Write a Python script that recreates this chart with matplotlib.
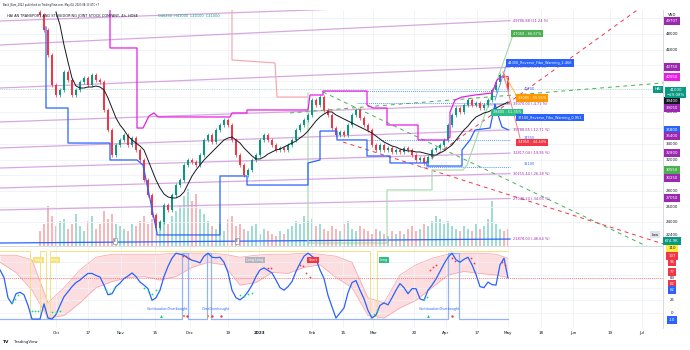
import numpy as np
import matplotlib.pyplot as plt
from matplotlib.transforms import blended_transform_factory

plt.rcParams['font.family'] = ['DejaVu Sans']

# x axis = candle slot (roughly one trading day), prices in VND
tick_slots = [4, 12, 20.25, 28.75, 37.5, 47, 54.75, 68, 75.75, 83.25, 93.5,
              101.5, 109.25, 117, 125.25, 133.25, 142.5, 150.5]
tick_labels = ['Oct', '17', 'Nov', '15', 'Dec', '19', '2023', 'Feb', '15', 'Mar',
               '20', 'Apr', '17', 'May', '18', 'Jun', '19', 'Jul']

first_open = 50800
closes = [50420, 48510, 45320, 41500, 40230, 40870, 43160, 42140, 40230, 40870,
          41880, 42390, 41500, 42780, 42140, 41880, 38320, 35770, 32580, 33860,
          34500, 35130, 33860, 34750, 33220, 31950, 29400, 27490, 24940, 23280,
          24050, 26210, 25580, 27490, 28760, 29400, 31310, 31950, 31690, 31310,
          32580, 34500, 35130, 34240, 35770, 36410, 37040, 36410, 34500, 32580,
          31310, 30040, 30670, 31950, 32580, 34500, 35130, 34500, 33860, 33220,
          33480, 33220, 33860, 34500, 35770, 36410, 37040, 37680, 39590, 38960,
          39970, 38320, 37680, 36020, 35130, 35510, 35130, 36410, 37680, 38320,
          37300, 36410, 35770, 33860, 33220, 33860, 33220, 33480, 32970, 33220,
          32970, 33480, 33220, 32580, 31950, 32200, 31560, 32330, 33220, 33480,
          33860, 34500, 36410, 37680, 38570, 38070, 38960, 39590, 38960, 39210,
          38570, 38960, 39590, 40870, 41880, 42780, 42390, 41000]
volumes_k = [600, 900, 1600, 1200, 800, 1000, 1100, 700, 900, 1300,
             800, 600, 1000, 1200, 700, 900, 1400, 1100, 1300, 900,
             800, 700, 600, 900, 800, 1000, 1200, 900, 1100, 1300,
             1000, 1500, 900, 1200, 1400, 1600, 2000, 2300, 1800, 2100,
             1500, 1300, 1000, 800, 700, 900, 600, 1100, 1200, 800,
             900, 700, 600, 800, 900, 500, 700, 600, 500, 400,
             600, 500, 700, 800, 1000, 900, 1200, 1000, 1100, 800,
             900, 700, 600, 800, 700, 600, 900, 1000, 700, 600,
             800, 700, 600, 500, 700, 600, 500, 400, 600, 500,
             600, 500, 700, 800, 600, 700, 900, 800, 1000, 1200,
             1100, 900, 1000, 800, 700, 600, 800, 700, 600, 900,
             700, 800, 1100, 1800, 900, 700, 600, 675]

ma_first_slot = 4
ma_values = [50800, 49150, 46600, 44430, 42390, 41370, 41120, 41120, 41250, 41250,
             41370, 41250, 40870, 39850, 38570, 37300, 36410, 35770, 35000, 34500,
             34110, 33730, 33220, 31950, 30670, 29400, 28380, 27620, 27240, 27110,
             27110, 27360, 27870, 28890, 29910, 30670, 31310, 31950, 32460, 32970,
             33480, 33990, 34500, 34750, 34880, 34500, 34110, 33480, 32970, 32460,
             32080, 32080, 32330, 32710, 32970, 33220, 33350, 33600, 33860, 34110,
             34370, 34750, 35130, 35640, 36280, 36920, 37430, 37810, 38070, 38070,
             37680, 37430, 37170, 36920, 36660, 36410, 36150, 35900, 35640, 35390,
             35000, 34620, 34240, 33990, 33730, 33600, 33350, 33220, 33100, 33100,
             32970, 32970, 32840, 32710, 32580, 32580, 32840, 33100, 33480, 33860,
             34500, 35130, 35770, 36280, 36920, 37430, 37680, 37940, 38070, 38320,
             38570, 38830, 39080, 39340]

support_slots = [1.5, 1.5, 7, 7, 17.5, 17.5, 24.25, 25.75, 29.25, 29.25,
                 45, 45, 51.75, 51.75, 67, 67, 70, 70, 74.25, 74.25,
                 81.75, 81.75, 87.5, 87.5, 96.75, 96.75, 105.5, 105.5, 107.5, 108.75,
                 112.5, 113.75, 114.75, 115.5, 117]
support_prices = [48890, 38570, 38570, 34110, 34110, 31950, 31950, 31310, 22650, 22400,
                  22400, 29910, 29910, 28760, 28760, 31570, 31950, 35640, 35640, 34500,
                  34500, 32460, 32460, 31570, 31570, 31180, 31180, 33220, 34500, 35770,
                  36020, 39080, 37300, 36150, 35800]
resist_slots = [17.5, 17.5, 24.25, 24.25, 25.75, 27.25, 28.5, 29.5, 47.5, 48,
                51.75, 51.75, 67, 67.5, 70.75, 70.75, 81.75, 81.75, 83.25, 86.75,
                86.75, 94.5, 94.5, 101.75, 102.5, 102.5, 103.75, 105.5, 108.75, 113,
                114.25, 115.75, 117]
resist_prices = [51060, 46220, 46220, 36020, 36020, 37550, 37940, 37430, 37430, 37940,
                 37940, 38320, 38320, 40230, 40230, 40740, 40740, 38960, 38570, 38570,
                 36410, 36410, 34500, 34500, 34880, 38060, 39590, 39970, 40230, 40480,
                 42140, 42650, 42550]
stop_slots = [48, 48, 58.75, 59.25, 66.75]
stop_prices = [51060, 44690, 44310, 39970, 39970]
green_slots = [67, 67, 86.75, 86.75, 98, 98, 105.75, 106.75, 118.25]
green_prices = [40480, 21370, 21370, 28130, 28130, 30670, 30670, 31310, 47870]

fib_left = [49660, 46600, 41120, 36790, 33480, 30930, 28380, 25580]
fib_right = [51950, 49706.88, 43767.50, 39070.00, 35788.65, 32817.04, 30215.44, 27040.24]
fib_texts = ['', '49706.88 (21.24 %)', '43767.50 (6.75 %)', '39070.00 (-4.71 %)',
             '35788.65 (-12.71 %)', '32817.04 (-19.96 %)', '30215.44 (-26.28 %)',
             '27040.24 (-34.05 %)']
base_left, base_right = 21370, 21878.03

dashed_green = [(70.75, 40610, 156.25, 19850), (62.5, 37940, 155.75, 41760)]
dashed_red = [(96.25, 31570, 150, 51310), (75.75, 34240, 158.25, 20860)]
dotted_levels = [40700, 39200, 34550, 31100]
dotted_starts = [70.75, 79.25, 81.75, 95]
fan_lines = [(113.75, 39590, 117, 44690, '#5b9cf6'),
             (115.75, 43160, 119.5, 39850, '#ffb74d'),
             (115.75, 43160, 120, 34750, '#f77c80')]
tool_boxes = [(118.25, 48060, '47050 - 66.67%', '#4caf50'),
              (117, 44300, '44300_Reverse_Fibo_Warning_2.466', '#2962ff'),
              (119.5, 39850, '39000 - 55.56%', '#ff9800'),
              (113.25, 38000, '38800 - 51.35%', '#2ebd85'),
              (119.5, 37360, '37100_Reverse_Fibo_Warning_0.951', '#2962ff'),
              (119.5, 34180, '34950 - 44.44%', '#f23645')]
blue_notes = [(121, 40950, '40700'), (121, 34750, '34550'), (121, 31450, '31100')]

# oscillator, one value per slot from slot -10
osc_values = [85, 70, 30, 18, 38, 41, 36, 15, -12, -12,
              -12, 18, -10, -12, -3, 15, 32, 42, 52, 60,
              65, 72, 78, 78, 74, 71, 55, 36, 38, 52,
              59, 68, 73, 79, 72, 61, 55, 48, 25, 30,
              45, 72, 92, 108, 118, 116, 114, 108, 104, 102,
              99, 112, 118, 110, 109, 110, 100, 80, 45, 30,
              26, 32, 42, 55, 72, 85, 89, 84, 79, 65,
              50, 45, 52, 62, 82, 98, 112, 118, 112, 106,
              85, 68, 35, 12, -10, 0, 10, 40, 60, 64,
              45, 28, 5, -10, -4, 15, 20, 16, 30, 45,
              58, 50, 38, 48, 48, 28, 25, 45, 55, 67,
              82, 97, 110, 118, 105, 100, 106, 110, 95, 76,
              52, 50, 61, 56, 55, 95, 108, 69]
band_slots = list(range(-10, 115, 4)) + [117]
band_upper = [114, 114, 105, 20, 50, 85, 110, 116, 116, 116, 116, 118, 118, 118, 116, 110,
              114, 116, 116, 118, 116, 112, 100, 30, 20, 75, 95, 108, 116, 118, 118, 116, 108]
band_lower = [100, 80, 45, -10, -5, 20, 50, 62, 70, 72, 65, 72, 90, 100, 95, 55,
              60, 80, 78, 90, 95, 70, 50, -5, -10, 10, 25, 50, 75, 82, 78, 75, 70]
yellow_off = [(-2.5, 0), (1.5, 2.5), (82.5, 84.25)]
pulse_windows = [(35.5, 37), (41.75, 42.75), (102, 104.75)]
green_dot_x = [-7, -6.25, -5.5, -2, -1.25, -0.5, 3, 4, 5, 16.5, 17.5, 18.5,
               26, 27, 28, 29, 50, 51, 52, 53, 83.5, 84.25, 96, 96.75]
green_dot_v = [22, 28, 35, 4, 4, 4, 1, 1, 3, 46, 40, 50,
               50, 44, 38, 46, 35, 33, 37, 40, -2, 5, 27, 32]
red_dot_x = [35.75, 36.5, 37.25, 57, 57.75, 65, 65.75, 66.5, 67.5, 97.5, 98.25,
             99, 103, 103.75, 107.75, 108.5, 115.5, 116.25]
red_dot_v = [112, 112, 108, 88, 88, 95, 92, 78, 72, 85, 90, 95, 108, 103, 108, 99, 101, 95]

W, H = 690, 350
fig = plt.figure(figsize=(6.9, 3.5), dpi=100)
fig.patch.set_facecolor('white')


def frame(x0, y0, x1, y1):
    return [x0 / W, 1 - y1 / H, (x1 - x0) / W, (y1 - y0) / H]


ax = fig.add_axes(frame(0, 10, 663, 246))
osc = fig.add_axes(frame(0, 247, 663, 328), sharex=ax)
vol = ax.twinx()
vol.set_zorder(0)
ax.set_zorder(1)
ax.patch.set_visible(False)

ax.set_xlim(-10, 155.75)
ax.set_ylim(20991, 51058)
vol.set_ylim(0, 9440)
vol.axis('off')
osc.set_ylim(-29.6, 130.2)

grid_c = '#eef1f7'
for a in (ax, osc):
    for s in a.spines.values():
        s.set_visible(False)
    a.spines['right'].set_visible(True)
    a.spines['right'].set_color('#d1d4dc')
    a.spines['right'].set_linewidth(0.6)
    a.tick_params(length=0, labelleft=False, labelright=False)
ax.spines['bottom'].set_visible(True)
ax.spines['bottom'].set_color('#d1d4dc')
ax.spines['bottom'].set_linewidth(0.6)
ax.set_xticks(tick_slots)
ax.tick_params(labelbottom=False)
ax.set_yticks(range(24000, 50001, 2000))
ax.grid(True, color=grid_c, lw=0.6)
osc.set_yticks([0, 25, 50, 75, 100])
osc.grid(True, color=grid_c, lw=0.6)
osc.set_xticklabels(tick_labels, fontsize=3, color='#131722')
for lab in osc.get_xticklabels():
    if lab.get_text() == '2023':
        lab.set_fontweight('bold')
osc.tick_params(axis='x', pad=2.5)

# fib levels
fx = [-10, 117.5]
for left, right, txt in zip(fib_left, fib_right, fib_texts):
    ax.plot(fx, [left, right], color='#ce93d8', lw=0.9, alpha=0.8, zorder=2)
    if txt:
        ax.text(118.25, right, txt, fontsize=2.5, color='#9c27b0', va='center', zorder=6)
ax.plot(fx, [base_left, base_right], color='#2962ff', lw=0.9, zorder=2)
ax.text(118.25, base_right, '21878.03 (-46.64 %)', fontsize=2.5, color='#9c27b0', va='center')

# current price line
ax.axhline(closes[-1], color='#089981', lw=0.5, ls=(0, (1, 1.5)), alpha=0.6, zorder=2)

for lvl, x0 in zip(dotted_levels, dotted_starts):
    ax.plot([x0, 117.5], [lvl, lvl], color='#5b9cf6', lw=0.7, ls=(0, (1, 1)), zorder=3)
for x0, p0, x1, p1 in dashed_green:
    ax.plot([x0, x1], [p0, p1], color='#4caf50', lw=0.7, ls=(0, (4, 4)), zorder=3)
for x0, p0, x1, p1 in dashed_red:
    ax.plot([x0, x1], [p0, p1], color='#f23645', lw=0.7, ls=(0, (4, 4)), zorder=3)

# volume
opens = [first_open] + closes[:-1]
slots = np.arange(len(closes))
up = np.array(closes) >= np.array(opens)
vol.bar(slots, volumes_k, width=0.7,
        color=np.where(up, '#8fd6c9', '#f8a9ad'), alpha=0.85)

# candles
body_lo = np.minimum(opens, closes)
body_hi = np.maximum(opens, closes)
colors = np.where(up, '#089981', '#f23645')
ax.vlines(slots, body_lo - 300, body_hi + 300, colors=colors, lw=0.5, zorder=4)
ax.bar(slots, np.maximum(body_hi - body_lo, 80), bottom=body_lo, width=0.55,
       color=colors, zorder=4, lw=0)

ax.plot(np.arange(len(ma_values)) + ma_first_slot, ma_values, color='#131722', lw=0.7, zorder=5)
ax.plot(support_slots, support_prices, color='#2962ff', lw=0.9, zorder=5)
ax.plot(resist_slots, resist_prices, color='#e91ee6', lw=0.9, zorder=5)
ax.plot(stop_slots, stop_prices, color='#f7a1a7', lw=0.8, zorder=3)
ax.plot(green_slots, green_prices, color='#a5d6a7', lw=0.8, zorder=3)
for x0, p0, x1, p1, c in fan_lines:
    ax.plot([x0, x1], [p0, p1], color=c, lw=0.7, zorder=5)

for x0, p, txt, c in tool_boxes:
    ax.text(x0, p, txt, fontsize=2.5, color='white', va='center', zorder=7,
            bbox=dict(boxstyle='square,pad=0.45', fc=c, ec='none'))
for x0, p, txt in blue_notes:
    ax.text(x0, p, txt, fontsize=2.5, color='#2962ff', va='center', zorder=6)
for s in (18.75, 49.25):
    ax.text(s, 21650, 'E', fontsize=2.2, color='#131722', ha='center', va='center', zorder=7,
            bbox=dict(boxstyle='square,pad=0.35', fc='white', ec='#787b86', lw=0.4))

# price scale
tr = blended_transform_factory(ax.transAxes, ax.transData)
for p in [48000, 46000, 38000, 34000, 32000, 28000, 26000, 24000, 22400]:
    ax.text(1.0135, p, f'{p}', transform=tr, fontsize=2.8, color='#131722',
            ha='center', va='center', clip_on=False)
ax.text(1.0135, 50420, 'VND', transform=tr, fontsize=2.8, color='#131722',
        ha='center', va='center', clip_on=False)
scale_tags = [(49706.88, '49707', '#9c27b0'), (43750, '43750', '#9c27b0'),
              (42550, '42550', '#e91ee6'), (39460, '39400', '#131722'),
              (38570, '39050', '#9c27b0'), (35770, '35800', '#2962ff'),
              (35000, '35400', '#9c27b0'), (32800, '32800', '#9c27b0'),
              (30670, '30550', '#4caf50'), (29650, '30250', '#9c27b0'),
              (27050, '27050', '#9c27b0'), (21600, '674.9K', '#089981')]
for p, txt, c in scale_tags:
    ax.text(1.0135, p, txt, transform=tr, fontsize=2.8, color='white', ha='center',
            va='center', clip_on=False, zorder=8,
            bbox=dict(boxstyle='square,pad=0.5', fc=c, ec='none'))
ax.text(1.019, 40550, '41000\n\u221229.08%', transform=tr, fontsize=2.8, color='white',
        ha='center', va='center', linespacing=1.1, clip_on=False, zorder=9,
        bbox=dict(boxstyle='square,pad=0.45', fc='#089981', ec='none'))
ax.text(154.5, 40950, 'HAI', fontsize=2.8, color='white', ha='center', va='center',
        zorder=9, bbox=dict(boxstyle='square,pad=0.4', fc='#089981', ec='none'))
ax.text(153.75, 22400, 'Low', fontsize=2.6, color='#131722', ha='center', va='center',
        zorder=9, bbox=dict(boxstyle='square,pad=0.4', fc='#e0e3eb', ec='none'))

# oscillator
ox = np.arange(len(osc_values)) - 10
bx = np.array(band_slots)
osc.fill_between(bx, band_lower, band_upper, color='#f7a1a7', alpha=0.35, lw=0)
osc.plot(bx, band_upper, color='#f7a1a7', lw=0.5)
osc.plot(bx, band_lower, color='#f7a1a7', lw=0.5)

yx, yv = [-10], [122]
for a0, a1 in yellow_off:
    yx += [a0, a0, a1, a1]
    yv += [122, -12, -12, 122]
yx.append(117)
yv.append(122)
osc.plot(yx, yv, color='#f5e27a', lw=0.7)

px_, pv_ = [-10], [-11]
for a0, a1 in pulse_windows:
    px_ += [a0, a0, a1, a1]
    pv_ += [-11, 119, 119, -11]
px_.append(117)
pv_.append(-11)
osc.plot(px_, pv_, color='#90b4f5', lw=0.9)

osc.axhline(69, color='#f77c80', lw=0.7, ls=(0, (1, 1)))
osc.plot(ox, np.clip(osc_values, -12, 119), color='#2962ff', lw=0.9)
osc.scatter(green_dot_x, green_dot_v, s=1.6, color='#00e676', lw=0, zorder=5)
osc.scatter(red_dot_x, red_dot_v, s=1.6, color='#f23645', lw=0, zorder=5)

for s, txt, c in [(-0.4, 'Long', '#f5e27a'), (3.75, 'Long', '#f5e27a'),
                  (53.75, 'Long Long', '#b2b5be'), (68.25, 'Short', '#f23645'),
                  (86, 'Long', '#2ebd85')]:
    osc.text(s, 104.5, txt, fontsize=2.4, color='white', ha='center', va='center', zorder=6,
             bbox=dict(boxstyle='square,pad=0.4', fc=c, ec='none'))
# two signal labels overlap on the chart; drawn as one run of text
for s, txt in [(31.75, 'ContinuationOverbought'), (44, 'OverOverbought'),
               (99.75, 'ContinuationOverbought')]:
    osc.text(s, 7, txt, fontsize=2.4, color='#2962ff', ha='center', va='center', zorder=6)
osc.scatter([30.25, 97], [-5, -5], marker='^', s=4, color='#00c853', lw=0, zorder=6)
osc.scatter([36, 42], [-5, -5], marker='s', s=3, color='#ff9800', lw=0, zorder=6)
osc.scatter([36.75, 43, 45.25, 103], [-5, -5, -5, -5], marker='o', s=3,
            color='#f23645', lw=0, zorder=6)

tro = blended_transform_factory(osc.transAxes, osc.transData)
osc_tags = [(128, '110', '#ffeb3b', '#131722'), (112, '107', '#f23645', 'white'),
            (100.6, '96', '#f23645', 'white'), (80.9, '77', '#f23645', 'white'),
            (57.2, '62', '#f23645', 'white'), (45.4, '62', '#2962ff', 'white'),
            (-13.8, '-10', '#2962ff', 'white')]
for v, txt, fc, tc in osc_tags:
    osc.text(1.0135, v, txt, transform=tro, fontsize=2.8, color=tc, ha='center',
             va='center', clip_on=False, zorder=8,
             bbox=dict(boxstyle='square,pad=0.5', fc=fc, ec='none'))
for v in (69, 25, 0):
    osc.text(1.0135, v, str(v), transform=tro, fontsize=2.8, color='#131722',
             ha='center', va='center', clip_on=False)

fig.text(3 / W, 1 - 5 / H, 'Bach_Nam_2022 published on TradingView.com, May 04, 2023 08:13 UTC+7',
         fontsize=1.8, color='#131722', va='center')
fig.text(7 / W, 1 - 16 / H, 'HAI AN TRANSPORT AND STEVEDORING JOINT STOCK COMPANY, 4h, HOSE',
         fontsize=2.5, color='#131722', va='center', zorder=10)
fig.text(158 / W, 1 - 16 / H, 'O40250  H41000  L40100  C41000',
         fontsize=2.5, color='#089981', va='center', zorder=10)
fig.text(3 / W, 1 - 342 / H, 'TV', fontsize=3.2, fontweight='bold', color='#131722', va='center')
fig.text(14 / W, 1 - 342 / H, 'TradingView', fontsize=2.8, color='#131722', va='center')

fig.savefig('out.png', dpi=100)
